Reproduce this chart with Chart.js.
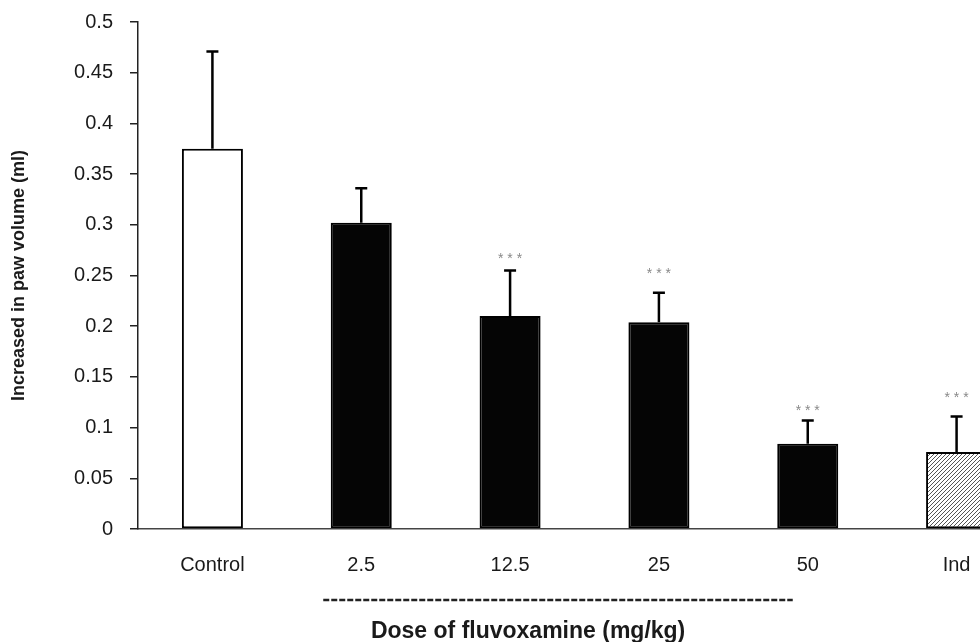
<!DOCTYPE html>
<html>
<head>
<meta charset="utf-8">
<script src="https://cdn.jsdelivr.net/npm/chart.js@4.4.1/dist/chart.umd.min.js"></script>
<style>
  html, body { margin: 0; padding: 0; background: #fff; overflow: hidden; }
  #wrap { width: 980px; height: 642px; overflow: hidden; }
</style>
</head>
<body>
<div id="wrap"><canvas id="chart" width="1040" height="642"></canvas></div>
<script>
const categories = ["Control", "2.5", "12.5", "25", "50", "Ind"];
const means = [0.375, 0.302, 0.210, 0.204, 0.084, 0.076];
const sem = [0.096, 0.034, 0.045, 0.029, 0.023, 0.035];
const stars = ["", "", "***", "***", "***", "***"];
const starLevel = [null, null, 0.269, 0.254, 0.119, 0.132];
const doseGroup = ["2.5", "50"]; // categories under the dashed bracket

function hatch() {
  const c = document.createElement("canvas");
  c.width = 4; c.height = 4;
  const g = c.getContext("2d");
  g.fillStyle = "#fff";
  g.fillRect(0, 0, 4, 4);
  g.strokeStyle = "#555";
  g.lineWidth = 1;
  g.beginPath();
  g.moveTo(0, 4); g.lineTo(4, 0);
  g.moveTo(-1, 1); g.lineTo(1, -1);
  g.moveTo(3, 5); g.lineTo(5, 3);
  g.stroke();
  return g.createPattern(c, "repeat");
}

const fills = ["#fff", "#050505", "#050505", "#050505", "#050505", hatch()];

const extras = {
  id: "extras",
  afterDatasetsDraw(chart) {
    const ctx = chart.ctx;
    const x = chart.scales.x, y = chart.scales.y;
    ctx.save();
    // error bars
    ctx.strokeStyle = "#000";
    ctx.lineWidth = 2.5;
    means.forEach((m, i) => {
      const px = x.getPixelForValue(i);
      const top = y.getPixelForValue(m + sem[i]);
      ctx.beginPath();
      ctx.moveTo(px, y.getPixelForValue(m));
      ctx.lineTo(px, top);
      ctx.moveTo(px - 6, top);
      ctx.lineTo(px + 6, top);
      ctx.stroke();
    });
    // significance stars
    ctx.fillStyle = "#888";
    ctx.font = "14px 'Liberation Sans', Arial, sans-serif";
    ctx.textAlign = "center";
    ctx.textBaseline = "middle";
    stars.forEach((s, i) => {
      if (!s) return;
      ctx.fillText(s.split("").join(" "), x.getPixelForValue(i), y.getPixelForValue(starLevel[i]) + 3);
    });
    // dashed bracket under dose groups
    const a = x.getPixelForValue(categories.indexOf(doseGroup[0]));
    const b = x.getPixelForValue(categories.indexOf(doseGroup[1]));
    ctx.strokeStyle = "#222";
    ctx.lineWidth = 2.5;
    ctx.setLineDash([6, 2]);
    ctx.beginPath();
    ctx.moveTo(a - 38, y.bottom + 71);
    ctx.lineTo(b - 15, y.bottom + 71);
    ctx.stroke();
    ctx.setLineDash([]);
    // x axis title
    ctx.fillStyle = "#1a1a1a";
    ctx.font = "bold 23px 'Liberation Sans', Arial, sans-serif";
    ctx.textBaseline = "middle";
    ctx.fillText("Dose of fluvoxamine (mg/kg)", x.getPixelForValue(2) + 18, y.bottom + 103);
    ctx.restore();
  }
};

Chart.defaults.font.family = "'Liberation Sans', Arial, sans-serif";
Chart.defaults.color = "#1a1a1a";

new Chart(document.getElementById("chart"), {
  type: "bar",
  data: {
    labels: categories,
    datasets: [{
      data: means,
      backgroundColor: fills,
      borderColor: "#000",
      borderWidth: 2,
      borderSkipped: false,
      categoryPercentage: 1,
      barPercentage: 0.41
    }]
  },
  options: {
    responsive: false,
    animation: false,
    devicePixelRatio: 1,
    layout: { padding: { top: 22, right: 9, bottom: 0, left: 0 } },
    plugins: { legend: { display: false }, tooltip: { enabled: false } },
    scales: {
      x: {
        afterFit(s) { s.height = 113; s.paddingLeft = 0; s.paddingRight = 0; },
        grid: { display: false, drawTicks: false },
        border: { display: true, color: "#444", width: 1.5 },
        ticks: { padding: 24, font: { size: 20 }, color: "#1a1a1a" }
      },
      y: {
        min: 0,
        max: 0.5,
        afterFit(s) { s.width = 138; s.paddingTop = 0; s.paddingBottom = 0; },
        grid: { drawOnChartArea: false, drawTicks: true, tickLength: 8, color: "#222", lineWidth: 1.5 },
        border: { display: true, color: "#222", width: 1.5 },
        ticks: {
          stepSize: 0.05,
          padding: 17,
          font: { size: 20 },
          color: "#1a1a1a",
          callback: v => String(+v.toFixed(2))
        },
        title: {
          display: true,
          text: "Increased in paw volume (ml)",
          font: { size: 18, weight: "bold" },
          color: "#1a1a1a",
          padding: { top: 8, bottom: 0 }
        }
      }
    }
  },
  plugins: [extras]
});
</script>
</body>
</html>
